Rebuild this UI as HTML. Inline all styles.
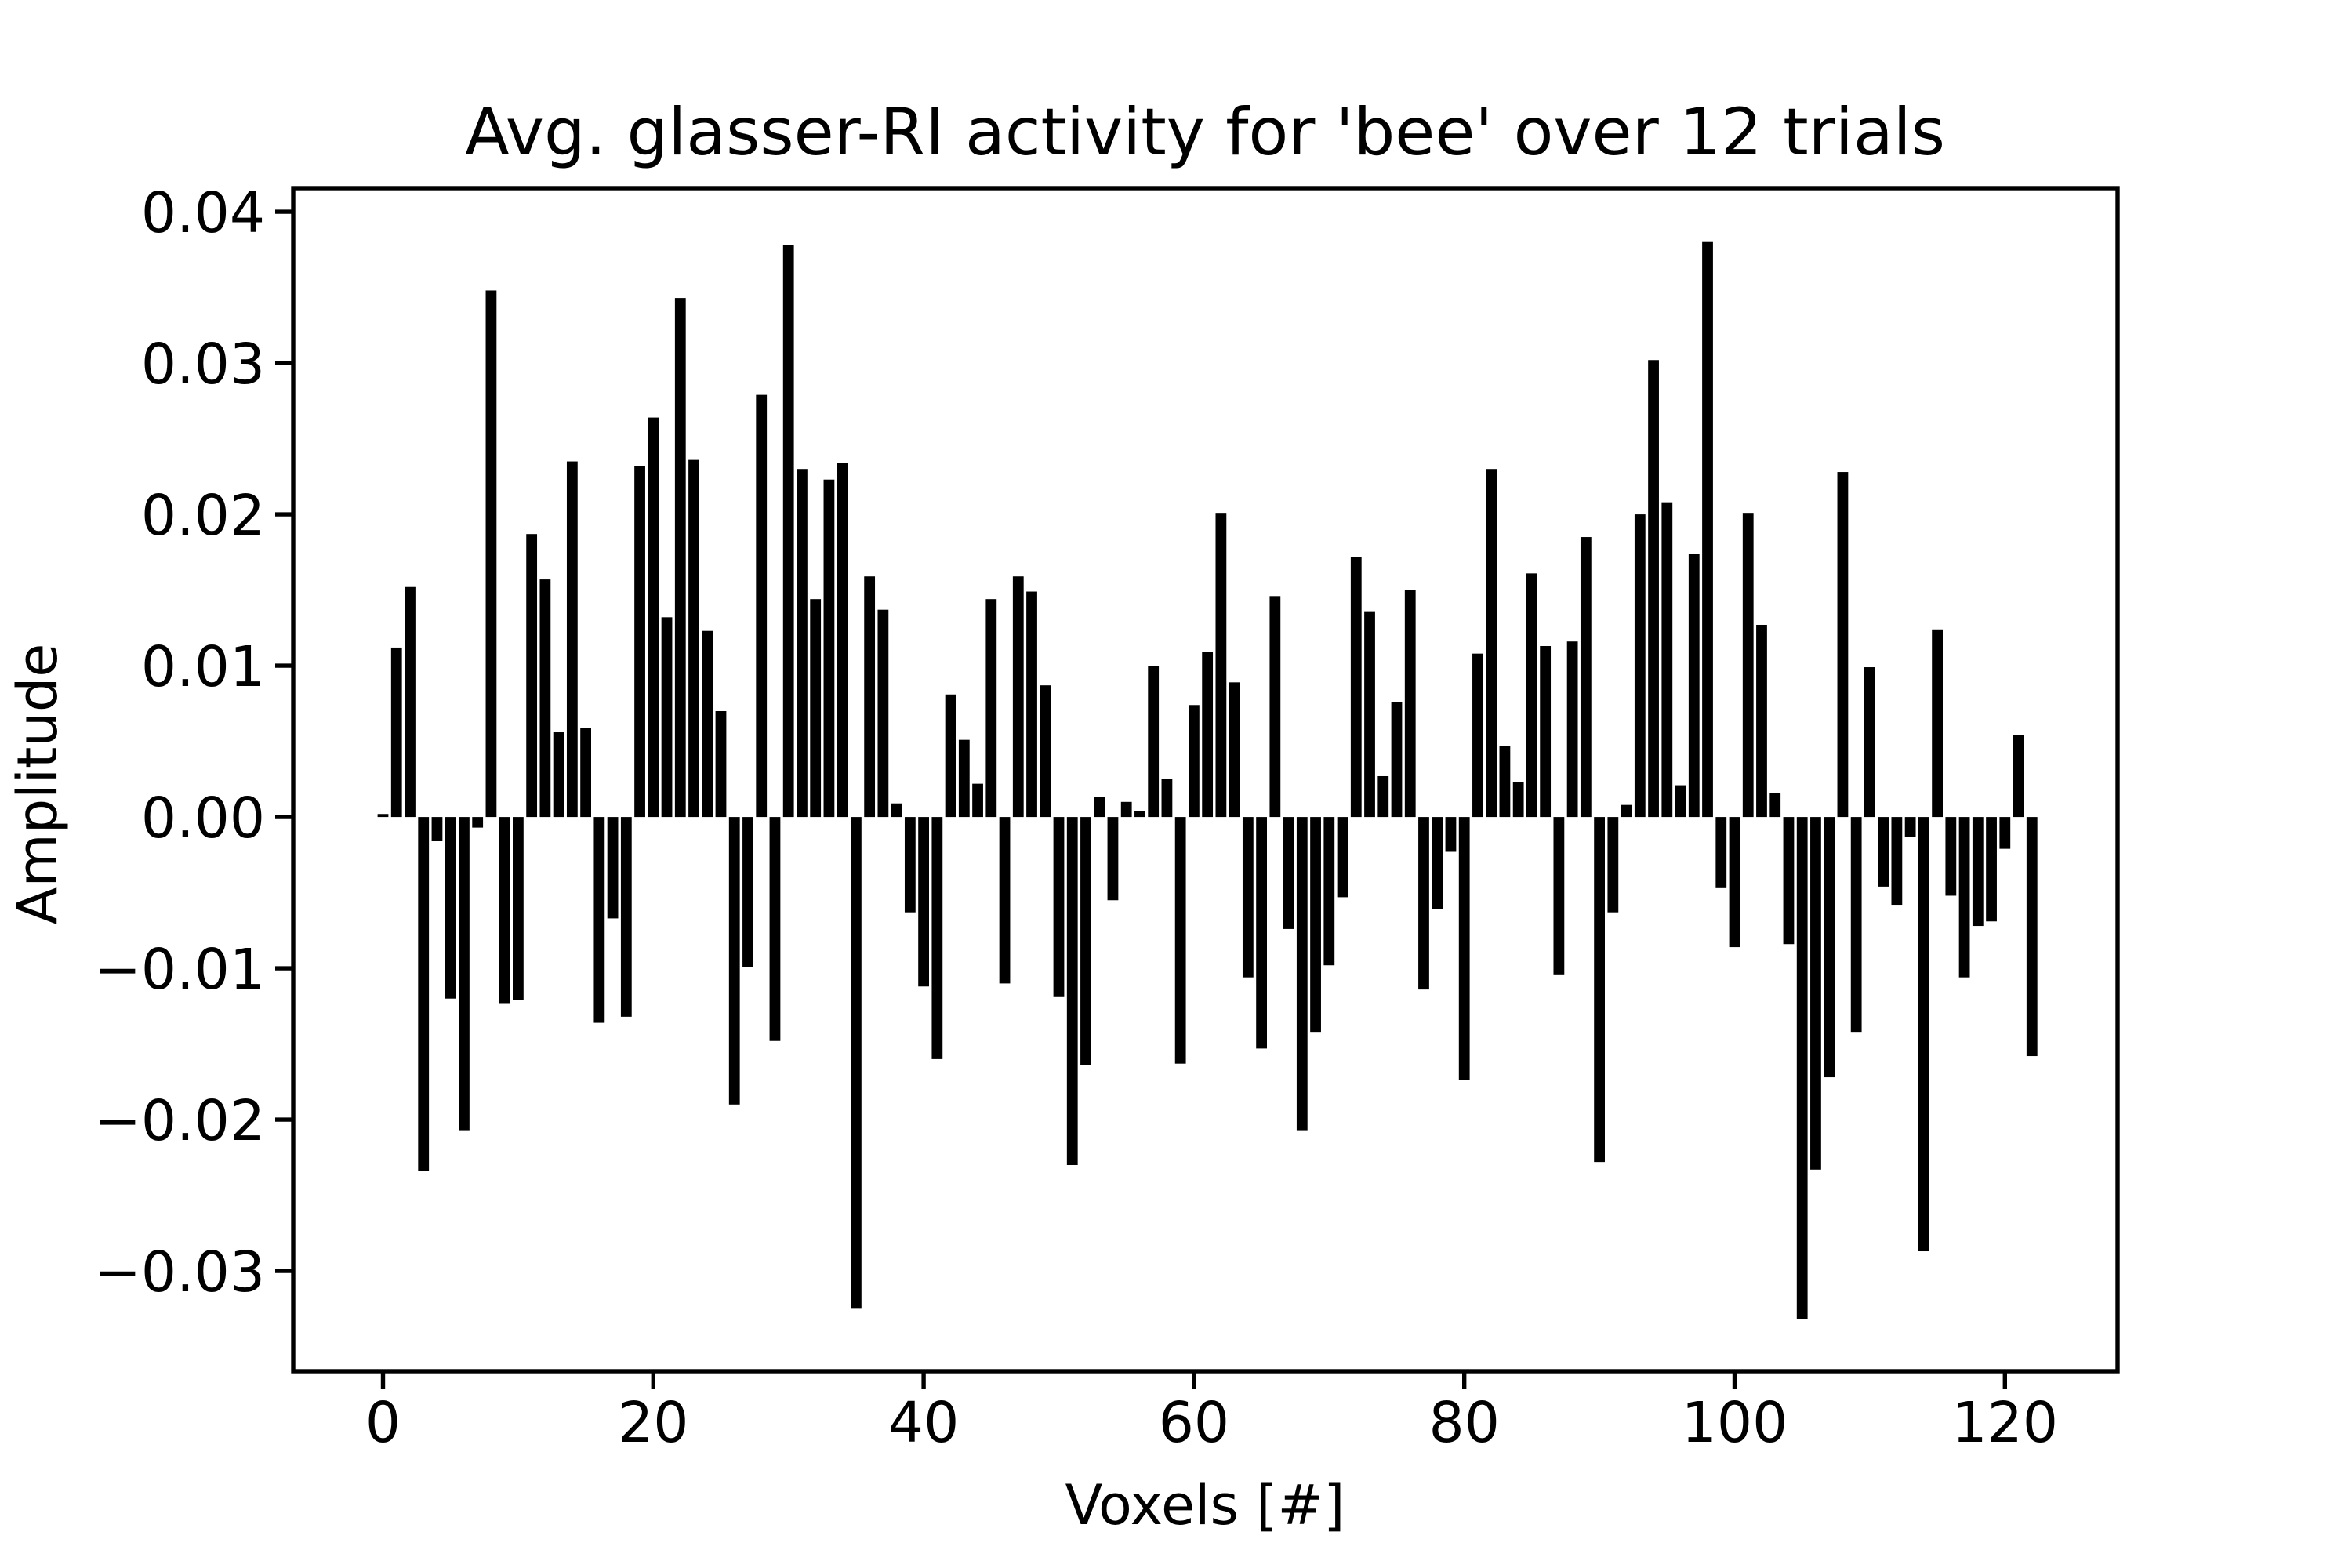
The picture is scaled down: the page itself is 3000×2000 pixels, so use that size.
<!DOCTYPE html>
<html><head><meta charset="utf-8"><style>html,body{margin:0;padding:0;background:#fff}svg{display:block}</style></head>
<body>
<svg id="chart" width="3000" height="2000" viewBox="0 0 3000 2000" xmlns="http://www.w3.org/2000/svg" font-family="'DejaVu Sans','Liberation Sans',sans-serif">
<rect width="3000" height="2000" fill="#fff"/>
<g id="bars"></g>
<g id="axes"></g>
<text x="1537" y="197" font-size="83" text-anchor="middle">Avg. glasser-RI activity for 'bee' over 12 trials</text>
<text x="1537" y="1944" font-size="70" text-anchor="middle">Voxels [#]</text>
<text transform="translate(72,1000) rotate(-90)" font-size="70" text-anchor="middle">Amplitude</text>
</svg>
<script>
const values = [0.0002,0.0112,0.0152,-0.0234,-0.0016,-0.012,-0.0207,-0.0007,0.0348,-0.0123,-0.0121,0.0187,0.0157,0.0056,0.0235,0.0059,-0.0136,-0.0067,-0.0132,0.0232,0.0264,0.0132,0.0343,0.0236,0.0123,0.007,-0.019,-0.0099,0.0279,-0.0148,0.0378,0.023,0.0144,0.0223,0.0234,-0.0325,0.0159,0.0137,0.0009,-0.0063,-0.0112,-0.016,0.0081,0.0051,0.0022,0.0144,-0.011,0.0159,0.0149,0.0087,-0.0119,-0.023,-0.0164,0.0013,-0.0055,0.001,0.0004,0.01,0.0025,-0.0163,0.0074,0.0109,0.0201,0.0089,-0.0106,-0.0153,0.0146,-0.0074,-0.0207,-0.0142,-0.0098,-0.0053,0.0172,0.0136,0.0027,0.0076,0.015,-0.0114,-0.0061,-0.0023,-0.0174,0.0108,0.023,0.0047,0.0023,0.0161,0.0113,-0.0104,0.0116,0.0185,-0.0228,-0.0063,0.0008,0.02,0.0302,0.0208,0.0021,0.0174,0.038,-0.0047,-0.0086,0.0201,0.0127,0.0016,-0.0084,-0.0332,-0.0233,-0.0172,0.0228,-0.0142,0.0099,-0.0046,-0.0058,-0.0013,-0.0287,0.0124,-0.0052,-0.0106,-0.0072,-0.0069,-0.0021,0.0054,-0.0158];
const xTicks = [0,20,40,60,80,100,120];
const yTicks = [-0.03,-0.02,-0.01,0,0.01,0.02,0.03,0.04];
const yTickLabels = ["\u22120.03","\u22120.02","\u22120.01","0.00","0.01","0.02","0.03","0.04"];

const NS="http://www.w3.org/2000/svg";
const L=374,R=2701,T=240,B=1749;
const x=v=>488.5+v*17.24;
const y=v=>1042.1-v*19300;
const bars=document.getElementById('bars'), axes=document.getElementById('axes');
function mk(tag,attrs,parent){const e=document.createElementNS(NS,tag);for(const k in attrs)e.setAttribute(k,attrs[k]);parent.appendChild(e);return e;}
values.forEach((v,i)=>{
  const y0=y(0),y1=y(v);
  const r=mk('rect',{x:x(i-0.4),y:Math.min(y0,y1),width:x(0.8)-x(0),height:Math.max(Math.abs(y1-y0),0.5),fill:'#000'},bars);
  
  
});
const frame=mk('rect',{x:L,y:T,width:R-L,height:B-T,fill:'none',stroke:'#000','stroke-width':5.4},axes);


xTicks.forEach(t=>{
  const ln=mk('line',{x1:x(t),x2:x(t),y1:B,y2:B+23,stroke:'#000','stroke-width':5.4},axes);
  
  
  const tx=mk('text',{x:x(t),y:B+90,'font-size':71,'text-anchor':'middle'},axes);
  tx.textContent=t;
  
  
});
yTicks.forEach((t,i)=>{
  const ln=mk('line',{x1:L-23,x2:L,y1:y(t),y2:y(t),stroke:'#000','stroke-width':5.4},axes);
  
  
  const tx=mk('text',{x:L-36,y:y(t)+26,'font-size':71,'text-anchor':'end'},axes);
  tx.textContent=yTickLabels[i];
  
  
});
</script>
</body></html>
